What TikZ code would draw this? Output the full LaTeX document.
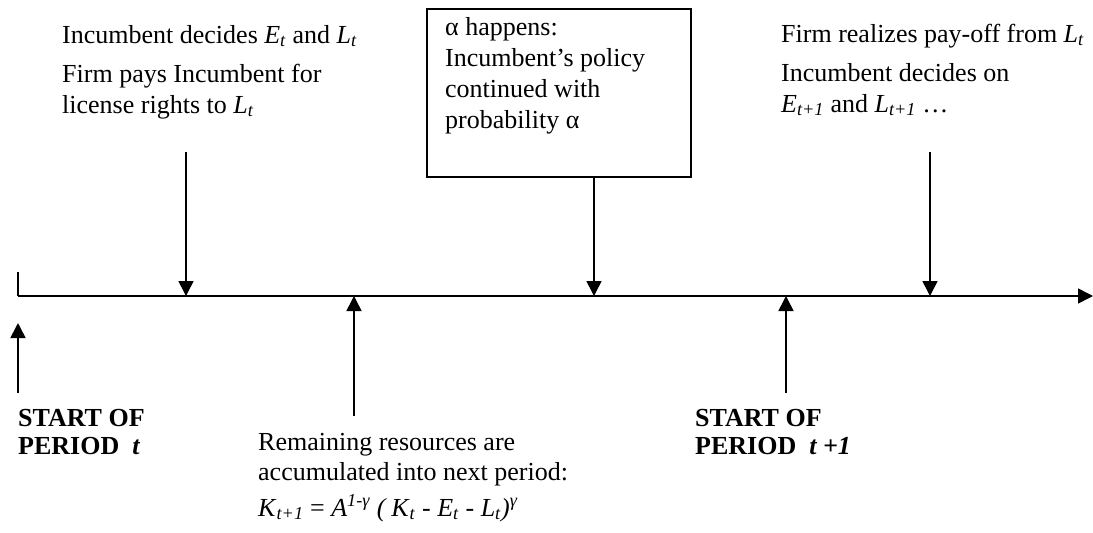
\documentclass[tikz,border=0pt]{standalone}
\usepackage{fontspec}
\setmainfont{Liberation Serif}
\usetikzlibrary{arrows.meta}
\newcommand\isub[2]{\textit{#1}\textsubscript{\textit{#2}}}
\begin{document}
\begin{tikzpicture}[x=1pt,y=-1pt,
  txt/.style={anchor=base west, inner sep=0pt, align=left, font=\fontsize{26}{30.5}\selectfont},
  boxtext/.style={txt, font=\fontsize{26}{31}\selectfont},
  remtext/.style={txt, font=\fontsize{26}{29.5}\selectfont},
  btxt/.style={txt, font=\fontsize{26}{28}\selectfont\bfseries},
  arr/.style={line width=1.6pt, -{Triangle[length=15pt,width=15pt]}},
  evbox/.style={draw, line width=1.6pt, anchor=north west, inner sep=0pt, minimum width=264pt, minimum height=168pt}]
\useasboundingbox (0,0) rectangle (1093,533);
% timeline
\coordinate (tl0) at (18,296);
\coordinate (tl1) at (1093,296);
\coordinate (tick) at (18,272);
\draw[line width=1.8pt] (tick) -- (tl0);
\draw[arr] (tl0) -- (tl1);
% event points on the line
\coordinate (p1) at (186,296);
\coordinate (p2) at (354,296);
\coordinate (p3) at (594,296);
\coordinate (p4) at (786,296);
\coordinate (p5) at (930,296);
% arrow tails
\coordinate (a0s) at (18,393);
\coordinate (a0e) at (18,323);
\coordinate (a1s) at (186,152);
\coordinate (a2s) at (354,416);
\coordinate (a4s) at (786,393);
\coordinate (a5s) at (930,152);
% box
\node[evbox] (box) at (426,8) {};
\node[boxtext] (boxtxt) at (445,128) {α happens:\\Incumbent’s policy\\continued with\\probability α};
% arrows
\draw[arr] (a0s) -- (a0e);
\draw[arr] (a1s) -- (p1);
\draw[arr] (a2s) -- (p2);
\draw[arr] (box.south -| p3) -- (p3);
\draw[arr] (a4s) -- (p4);
\draw[arr] (a5s) -- (p5);
% texts
\node[txt] (t1) at (62,43) {Incumbent decides \isub{E}{t} and \isub{L}{t}};
\node[txt] (t2) at (62,113) {Firm pays Incumbent for\\license rights to \isub{L}{t}};
\node[txt] (r1) at (781,42) {Firm realizes pay-off from \isub{L}{t}};
\node[txt] (r2) at (781,112) {Incumbent decides on\\\isub{E}{t+1} and \isub{L}{t+1} …};
\node[btxt] (s1) at (18,454) {START OF\\PERIOD\ \ \textit{t}};
\node[btxt] (s2) at (695,454) {START OF\\PERIOD\ \ \textit{t +1}};
\node[remtext] (rem) at (258,480) {Remaining resources are\\accumulated into next period:};
\node[txt] (frm) at (258,516) {\isub{K}{t+1} = \textit{A}\textsuperscript{\textit{1-γ}} \textit{(}\,\isub{K}{t} - \isub{E}{t} - \isub{L}{t}\textit{)}\textsuperscript{\textit{γ}}};
\end{tikzpicture}
\end{document}
